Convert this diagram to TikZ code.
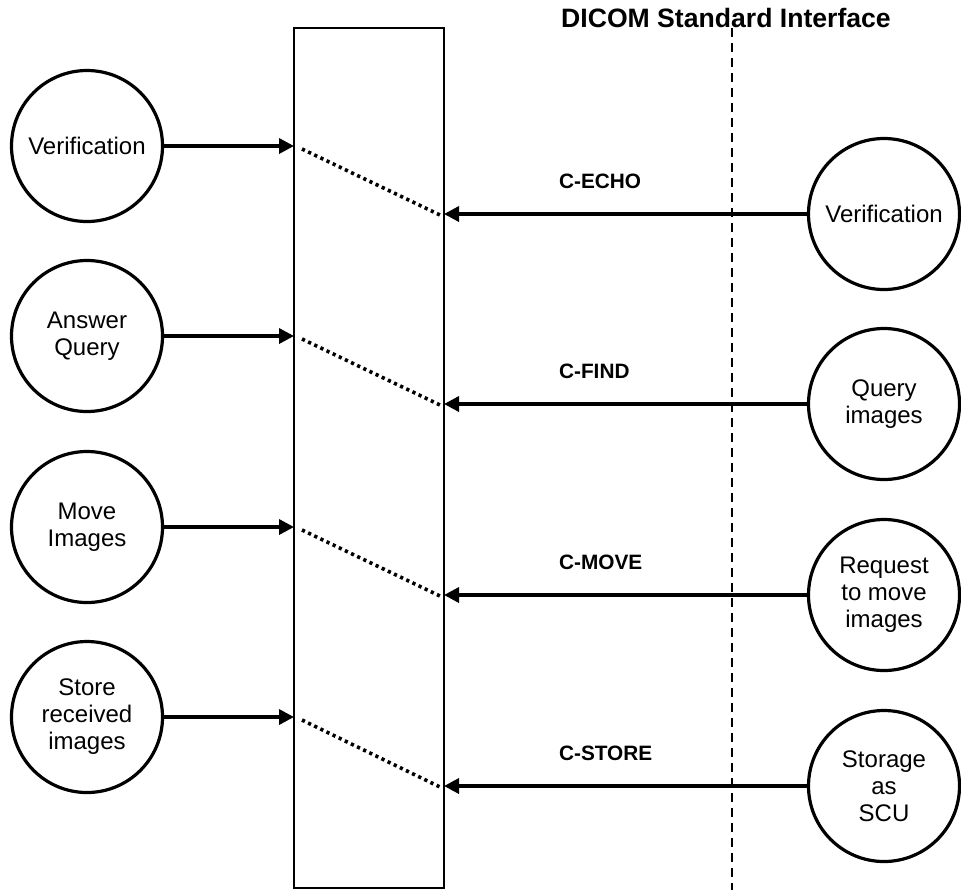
\documentclass[tikz,border=0pt]{standalone}
\usepackage{fontspec}
\setmainfont{Liberation Sans}
\usetikzlibrary{calc,arrows.meta,positioning}

\begin{document}
\begin{tikzpicture}[x=0.5pt,y=-0.5pt,font=\fontsize{12}{13.5}\selectfont]

\tikzset{procnode/.style={draw=black,line width=1.6pt,shape=circle,inner sep=0pt,minimum size=75.5pt,align=center},
boxnode/.style={draw=black,line width=1.4pt,shape=rectangle,inner sep=0pt,minimum width=75pt,minimum height=430pt},
msgarrow/.style={line width=1.7pt,-{Triangle[length=7.5pt,width=7.5pt]}},
dotline/.style={line width=1.8pt,dash pattern=on 1.6pt off 1.8pt},
ifline/.style={line width=1.1pt,dash pattern=on 4.5pt off 3pt},
cmdlabel/.style={font=\fontsize{10.4}{12}\selectfont\bfseries,anchor=west}}

\useasboundingbox (0,0) rectangle (961,890);

% Interface box
\node[boxnode] (box) at (369,458) {};

% Standard interface line
\coordinate (ifTop) at (732,28);
\coordinate (ifBot) at (732,890);
\draw[ifline] (ifTop) -- (ifBot);
\node[anchor=base,font=\fontsize{13.3}{16}\selectfont\bfseries] (title) at (726,27) {DICOM Standard Interface};

% Left nodes
\node[procnode] (l1) at (87,146) {Verification};
\node[procnode] (l2) at (87,336) {Answer\\Query};
\node[procnode] (l3) at (87,527) {Move\\Images};
\node[procnode] (l4) at (87,717) {Store\\received\\images};

% Right nodes
\node[procnode] (r1) at (884,214) {Verification};
\node[procnode] (r2) at (884,404) {Query\\images};
\node[procnode] (r3) at (884,595) {Request\\to move\\images};
\node[procnode] (r4) at (884,786) {Storage\\as\\SCU};

% Points on the box
\foreach \i/\yl/\yr in {1/146/214,2/336/404,3/527/595,4/717/786} {
  \coordinate (la\i) at (294,\yl);
  \coordinate (rb\i) at (444,\yr);
}

% Commands
\foreach \i/\yr/\cmd in {1/214/C-ECHO,2/404/C-FIND,3/595/C-MOVE,4/786/C-STORE}
  \node[cmdlabel] (c\i) at (552,\yr-33) {\cmd};

% Edges
\foreach \i in {1,2,3,4} {
  \draw[msgarrow] (l\i) -- (la\i);
  \draw[msgarrow] (r\i) -- (rb\i);
  \draw[dotline] ($(la\i)+(8,3)$) -- ($(rb\i)+(-4,1)$);
}

\end{tikzpicture}
\end{document}
